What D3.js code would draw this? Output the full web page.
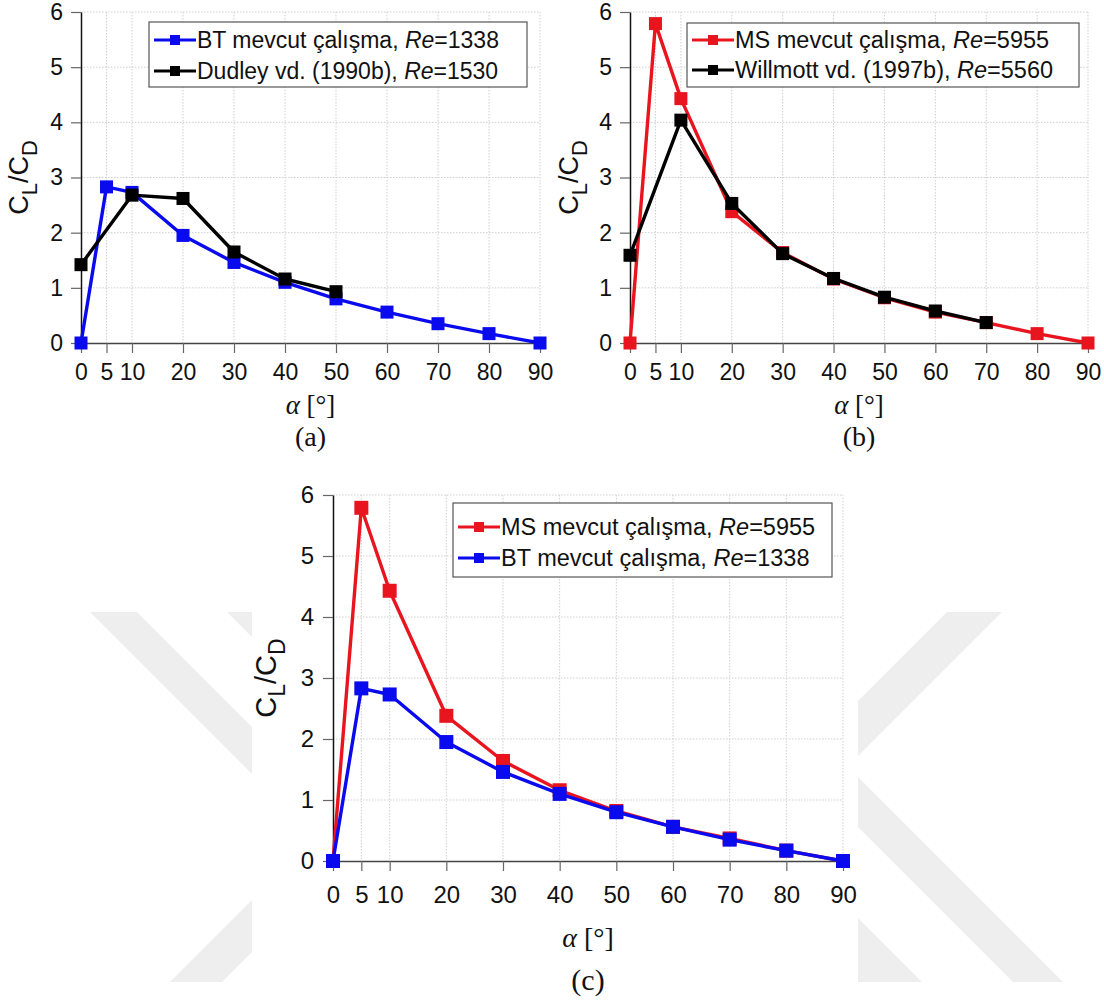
<!DOCTYPE html>
<html>
<head>
<meta charset="utf-8">
<script src="https://cdn.jsdelivr.net/npm/d3@7"></script>
<style>
  body { margin: 0; background: #fff; }
  svg { display: block; }
</style>
</head>
<body>
<script>
// data
const alphaAll = [0, 5, 10, 20, 30, 40, 50, 60, 70, 80, 90];
const btValues = [0, 2.83, 2.73, 1.95, 1.46, 1.10, 0.80, 0.56, 0.35, 0.17, 0];
const msValues = [0, 5.79, 4.43, 2.38, 1.64, 1.16, 0.82, 0.56, 0.37, 0.17, 0];
const dudleyAlpha = [0, 10, 20, 30, 40, 50];
const dudleyValues = [1.42, 2.68, 2.62, 1.65, 1.16, 0.93];
const willmottAlpha = [0, 10, 20, 30, 40, 50, 60, 70];
const willmottValues = [1.59, 4.04, 2.53, 1.62, 1.17, 0.83, 0.58, 0.37];

const xTicks = [0, 5, 10, 20, 30, 40, 50, 60, 70, 80, 90];
const yTicks = [0, 1, 2, 3, 4, 5, 6];

const btLabel = ['BT mevcut çalışma, ', 'Re', '=1338'];
const msLabel = ['MS mevcut çalışma, ', 'Re', '=5955'];
const dudleyLabel = ['Dudley vd. (1990b), ', 'Re', '=1530'];
const willmottLabel = ['Willmott vd. (1997b), ', 'Re', '=5560'];
const panelLetters = ['(a)', '(b)', '(c)'];

const RED = '#e8151f', BLUE = '#0a0aee', BLACK = '#000';

const svg = d3.select('body').append('svg')
    .attr('width', 1104)
    .attr('height', 1003);

// light grey watermark pieces around panel (c)
const watermark = [
    [[90, 612], [137, 612], [252, 727], [252, 774]],
    [[227, 612], [252, 612], [252, 637]],
    [[170, 982], [222, 982], [252, 952], [252, 900]],
    [[947, 612], [1002, 612], [858, 756], [858, 701]],
    [[858, 777], [1063, 982], [1013, 982], [858, 827]],
    [[858, 918], [922, 982], [858, 982]]
];
svg.selectAll('.wm').data(watermark).enter()
    .append('polygon')
    .attr('class', 'wm')
    .attr('points', d => d.map(p => p.join(',')).join(' '))
    .attr('fill', '#eeeeee');

function drawPanel(cfg) {
    let x = d3.scaleLinear().domain([0, 90]).range([cfg.left, cfg.right]),
        y = d3.scaleLinear().domain([0, 6]).range([cfg.bottom, cfg.top]);
    let g = svg.append('g');

    // dotted grid
    g.append('g').selectAll('line').data(yTicks.slice(1)).enter().append('line')
        .attr('x1', cfg.left).attr('x2', cfg.right)
        .attr('y1', d => y(d)).attr('y2', d => y(d))
        .attr('stroke', '#cfcfcf').attr('stroke-dasharray', '1.5,1.5');
    g.append('g').selectAll('line').data(xTicks.slice(1)).enter().append('line')
        .attr('x1', d => x(d)).attr('x2', d => x(d))
        .attr('y1', cfg.top).attr('y2', cfg.bottom)
        .attr('stroke', '#cfcfcf').attr('stroke-dasharray', '1.5,1.5');

    // axes
    let fmt = d3.format('d');
    let yAxisG = g.append('g')
        .attr('transform', 'translate(' + cfg.left + ',0)')
        .call(d3.axisLeft(y).tickValues(yTicks).tickFormat(fmt)
            .tickSize(10).tickSizeOuter(0).tickPadding(cfg.yPad));
    let xAxisG = g.append('g')
        .attr('transform', 'translate(0,' + cfg.bottom + ')')
        .call(d3.axisBottom(x).tickValues(xTicks).tickFormat(fmt)
            .tickSize(10).tickSizeOuter(0).tickPadding(cfg.xPad));
    yAxisG.select('.domain').attr('stroke', '#111').attr('stroke-width', 1.5);
    xAxisG.select('.domain').attr('stroke', '#444').attr('stroke-width', 1.5);
    g.selectAll('.tick line').attr('stroke', '#666').attr('stroke-width', 1.2);
    g.selectAll('.tick text')
        .attr('font-family', 'Liberation Sans, Arial, sans-serif')
        .attr('font-size', cfg.tickSize)
        .attr('fill', '#111');

    // series
    cfg.series.forEach(s => {
        let pts = s.alpha.map((a, i) => [a, s.values[i]]);
        g.append('path')
            .datum(pts)
            .attr('fill', 'none')
            .attr('stroke', s.color)
            .attr('stroke-width', 3.4)
            .attr('stroke-linejoin', 'round')
            .attr('d', d3.line().x(d => x(d[0])).y(d => y(d[1])));
        g.append('g').selectAll('rect').data(pts).enter().append('rect')
            .attr('x', d => x(d[0]) - cfg.marker / 2)
            .attr('y', d => y(d[1]) - cfg.marker / 2)
            .attr('width', cfg.marker)
            .attr('height', cfg.marker)
            .attr('fill', s.color);
    });

    // y title  C_L / C_D
    let yt = g.append('text')
        .attr('transform', 'translate(' + (cfg.left - cfg.yTitleOff) + ',' + (cfg.top + cfg.bottom) / 2 + ') rotate(-90)')
        .attr('text-anchor', 'middle')
        .attr('font-family', 'Liberation Sans, Arial, sans-serif')
        .attr('font-size', cfg.titleSize)
        .attr('fill', '#111');
    let sub = Math.round(cfg.titleSize * 0.8);
    yt.append('tspan').text('C');
    yt.append('tspan').attr('font-size', sub).attr('dy', cfg.titleSize * 0.32).text('L');
    yt.append('tspan').attr('dy', -cfg.titleSize * 0.32).text('/C');
    yt.append('tspan').attr('font-size', sub).attr('dy', cfg.titleSize * 0.32).text('D');

    // x title  alpha [deg]
    let midX = (cfg.left + cfg.right) / 2;
    let xt = g.append('text')
        .attr('x', midX).attr('y', cfg.xTitleY)
        .attr('text-anchor', 'middle')
        .attr('font-family', 'Liberation Serif, Times New Roman, serif')
        .attr('font-size', cfg.xTitleSize)
        .attr('fill', '#111');
    xt.append('tspan').attr('font-style', 'italic').text('α');
    xt.append('tspan').text(' [°]');

    g.append('text')
        .attr('x', midX).attr('y', cfg.letterY)
        .attr('text-anchor', 'middle')
        .attr('font-family', 'Liberation Serif, Times New Roman, serif')
        .attr('font-size', cfg.letterSize)
        .attr('fill', '#111')
        .text(cfg.letter);

    // legend
    let L = cfg.legend;
    let lg = g.append('g');
    lg.append('rect')
        .attr('x', L.x).attr('y', L.y).attr('width', L.w).attr('height', L.h)
        .attr('fill', '#fff').attr('stroke', '#555').attr('stroke-width', 1.2);
    L.rows.forEach((r, i) => {
        let cy = L.firstRow + i * L.rowGap;
        lg.append('line')
            .attr('x1', L.x + 5).attr('x2', L.x + 47)
            .attr('y1', cy).attr('y2', cy)
            .attr('stroke', r.color).attr('stroke-width', 3);
        lg.append('rect')
            .attr('x', L.x + 26 - 5).attr('y', cy - 5)
            .attr('width', 10).attr('height', 10)
            .attr('fill', r.color);
        let t = lg.append('text')
            .attr('x', L.x + 48).attr('y', cy + L.font * 0.36)
            .attr('font-family', 'Liberation Sans, Arial, sans-serif')
            .attr('font-size', L.font)
            .attr('fill', '#111');
        t.append('tspan').text(r.label[0]);
        t.append('tspan').attr('font-style', 'italic').text(r.label[1]);
        t.append('tspan').text(r.label[2]);
    });
}

drawPanel({
    left: 81, right: 540, top: 12, bottom: 343,
    tickSize: 23, yPad: 8, xPad: 11, marker: 13,
    titleSize: 27, yTitleOff: 53,
    xTitleY: 414, xTitleSize: 27, letterY: 446, letterSize: 28, letter: panelLetters[0],
    series: [
        { alpha: alphaAll, values: btValues, color: BLUE },
        { alpha: dudleyAlpha, values: dudleyValues, color: BLACK }
    ],
    legend: { x: 149, y: 22, w: 378, h: 65, firstRow: 40, rowGap: 31, font: 23,
        rows: [{ label: btLabel, color: BLUE }, { label: dudleyLabel, color: BLACK }] }
});

drawPanel({
    left: 630, right: 1088, top: 12, bottom: 343,
    tickSize: 23, yPad: 8, xPad: 11, marker: 13,
    titleSize: 27, yTitleOff: 52,
    xTitleY: 414, xTitleSize: 27, letterY: 446, letterSize: 28, letter: panelLetters[1],
    series: [
        { alpha: alphaAll, values: msValues, color: RED },
        { alpha: willmottAlpha, values: willmottValues, color: BLACK }
    ],
    legend: { x: 687, y: 23, w: 392, h: 64, firstRow: 40, rowGap: 30, font: 23.5,
        rows: [{ label: msLabel, color: RED }, { label: willmottLabel, color: BLACK }] }
});

drawPanel({
    left: 333, right: 843, top: 495, bottom: 861,
    tickSize: 24, yPad: 9, xPad: 15, marker: 14,
    titleSize: 29, yTitleOff: 57,
    xTitleY: 947, xTitleSize: 28, letterY: 990, letterSize: 30, letter: panelLetters[2],
    series: [
        { alpha: alphaAll, values: msValues, color: RED },
        { alpha: alphaAll, values: btValues, color: BLUE }
    ],
    legend: { x: 453, y: 503, w: 379, h: 74, firstRow: 527, rowGap: 31, font: 23.5,
        rows: [{ label: msLabel, color: RED }, { label: btLabel, color: BLUE }] }
});
</script>
</body>
</html>
